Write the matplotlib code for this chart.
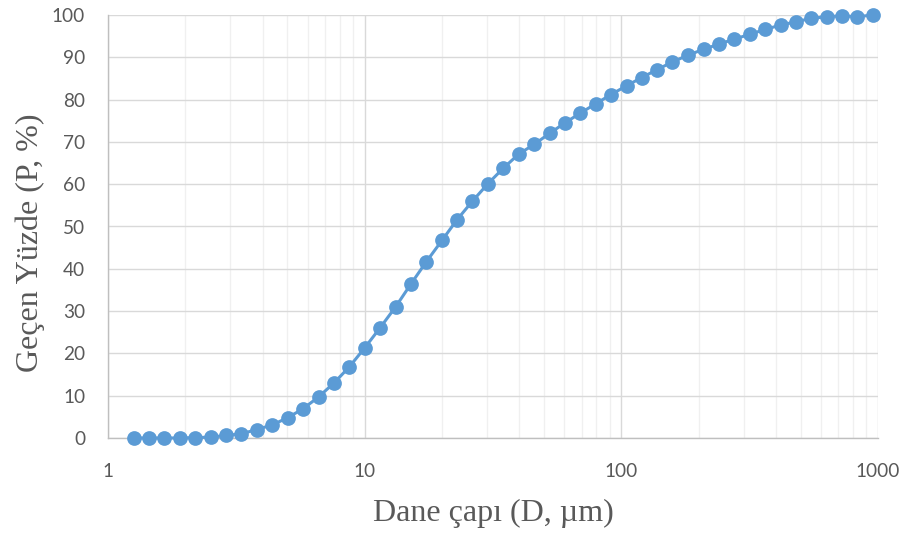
import matplotlib
matplotlib.use("Agg")
import matplotlib.pyplot as plt
from matplotlib.ticker import FixedLocator, NullFormatter, FixedFormatter

# Particle size (µm) and cumulative passing percentage
particle_size = [1.26, 1.45, 1.66, 1.91, 2.19, 2.51, 2.88, 3.31, 3.80, 4.37,
                 5.01, 5.75, 6.61, 7.59, 8.71, 10.0, 11.5, 13.2, 15.1, 17.4,
                 20.0, 22.9, 26.3, 30.2, 34.7, 39.8, 45.7, 52.5, 60.3, 69.2,
                 79.4, 91.2, 105, 120, 138, 158, 182, 209, 240, 275,
                 316, 363, 417, 479, 550, 631, 724, 832, 955]
passing = [0.0, 0.0, 0.0, 0.0, 0.1, 0.2, 0.6, 1.0, 2.0, 3.1,
           4.8, 6.9, 9.7, 13.0, 16.8, 21.3, 26.1, 31.0, 36.3, 41.7,
           46.7, 51.6, 56.0, 60.1, 63.8, 67.1, 69.4, 72.0, 74.5, 76.8,
           79.0, 81.2, 83.3, 85.2, 87.1, 88.9, 90.5, 91.9, 93.1, 94.3,
           95.4, 96.6, 97.6, 98.4, 99.2, 99.6, 99.8, 99.6, 100.0]

x_ticks = [1, 10, 100, 1000]
x_tick_labels = ["1", "10", "100", "1000"]
y_ticks = [0, 10, 20, 30, 40, 50, 60, 70, 80, 90, 100]

W, H = 908, 537
fig = plt.figure(figsize=(W / 100, H / 100), dpi=100)
ax = fig.add_axes([108 / W, (H - 438) / H, (878 - 108) / W, (438 - 15) / H])

ax.plot(particle_size, passing, color="#5B9BD5", linewidth=2.2,
        marker="o", markersize=10.6, markeredgewidth=0, clip_on=False, zorder=5)

ax.set_xscale("log")
ax.set_xlim(1, 1000)
ax.set_ylim(0, 100)

ax.xaxis.set_major_locator(FixedLocator(x_ticks))
ax.xaxis.set_major_formatter(FixedFormatter(x_tick_labels))
minor = [m * 10 ** d for d in range(3) for m in range(2, 10)]
ax.xaxis.set_minor_locator(FixedLocator(minor))
ax.xaxis.set_minor_formatter(NullFormatter())
ax.yaxis.set_major_locator(FixedLocator(y_ticks))

ax.grid(which="major", color="#d9d9d9", linewidth=1.0)
ax.grid(which="minor", axis="x", color="#f0f0f0", linewidth=1.0)
ax.set_axisbelow(True)

for side in ("top", "right"):
    ax.spines[side].set_visible(False)
for side in ("left", "bottom"):
    ax.spines[side].set_color("#bfbfbf")
    ax.spines[side].set_linewidth(1.0)

ax.tick_params(which="both", length=0, colors="#595959", labelsize=13.7)
ax.tick_params(axis="x", pad=18)
ax.tick_params(axis="y", pad=16.5)
for lbl in ax.get_xticklabels() + ax.get_yticklabels():
    lbl.set_fontfamily("Lato")

label_font = {"family": "Liberation Serif", "size": 23, "color": "#595959"}
ax.set_xlabel("Dane çapı (D, µm)", fontdict=label_font)
ax.set_ylabel("Geçen Yüzde (P, %)", fontdict=label_font)
ax.xaxis.set_label_coords(0.5, (438 - 513) / 423)
ax.xaxis.label.set_verticalalignment("center")
ax.yaxis.set_label_coords((30 - 108) / 770, (438 - 243) / 423)
ax.yaxis.label.set_verticalalignment("center")

fig.savefig("out.png", dpi=100)
